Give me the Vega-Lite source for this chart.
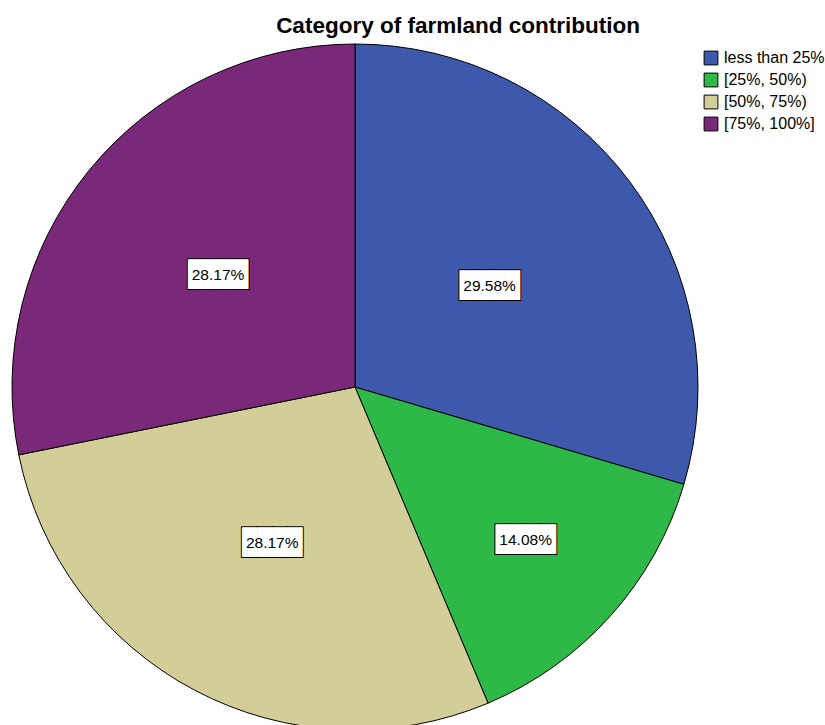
{
  "$schema": "https://vega.github.io/schema/vega-lite/v6.json",
  "width": 710,
  "height": 700,
  "autosize": "none",
  "padding": {"left": 0, "top": 37, "right": 115, "bottom": 0},
  "background": "white",
  "view": {"stroke": null},
  "title": {"text": "Category of farmland contribution", "font": "Liberation Sans", "fontSize": 22.5, "fontWeight": "bold", "color": "black", "anchor": "middle", "dx": 103, "offset": 0},
  "data": {"values": [
    {"category": "less than 25%", "pct": 29.58, "rank": 1, "label": "29.58%"},
    {"category": "[25%, 50%)", "pct": 14.08, "rank": 2, "label": "14.08%"},
    {"category": "[50%, 75%)", "pct": 28.17, "rank": 3, "label": "28.17%"},
    {"category": "[75%, 100%]", "pct": 28.17, "rank": 4, "label": "28.17%"}
  ]},
  "encoding": {
    "theta": {"field": "pct", "type": "quantitative", "stack": true},
    "order": {"field": "rank", "type": "quantitative"}
  },
  "layer": [
    {
      "mark": {"type": "arc", "radius": 343, "stroke": "black", "strokeWidth": 1},
      "encoding": {
        "color": {
          "field": "category", "type": "nominal",
          "scale": {"domain": ["less than 25%", "[25%, 50%)", "[50%, 75%)", "[75%, 100%]"], "range": ["#3E58AC", "#2DB848", "#D3CE97", "#7A287A"]},
          "legend": {"title": null, "orient": "none", "legendX": 703, "legendY": 13, "symbolType": "square", "symbolSize": 190, "symbolStrokeColor": "black", "symbolStrokeWidth": 1, "symbolOpacity": 1, "labelFont": "Liberation Sans", "labelFontSize": 16, "labelColor": "black", "rowPadding": 4, "labelOffset": 5}
        }
      }
    },
    {
      "mark": {"type": "text", "text": "████", "font": "DejaVu Sans Mono", "fontSize": 25, "fill": "black", "stroke": "black", "strokeWidth": 2, "align": "center", "baseline": "middle"},
      "encoding": {"radius": {"field": "pct", "type": "quantitative", "scale": {"type": "linear", "zero": false, "domain": [14.08, 28.17, 29.58], "range": [229, 177, 168]}}}
    },
    {
      "mark": {"type": "text", "text": "████", "font": "DejaVu Sans Mono", "fontSize": 25, "fill": "white", "align": "center", "baseline": "middle"},
      "encoding": {"radius": {"field": "pct", "type": "quantitative", "scale": {"type": "linear", "zero": false, "domain": [14.08, 28.17, 29.58], "range": [229, 177, 168]}}}
    },
    {
      "mark": {"type": "text", "font": "Liberation Sans", "fontSize": 15.5, "fill": "black", "align": "center", "baseline": "middle"},
      "encoding": {
        "text": {"field": "label"},
        "radius": {"field": "pct", "type": "quantitative", "scale": {"type": "linear", "zero": false, "domain": [14.08, 28.17, 29.58], "range": [229, 177, 168]}}
      }
    }
  ]
}
